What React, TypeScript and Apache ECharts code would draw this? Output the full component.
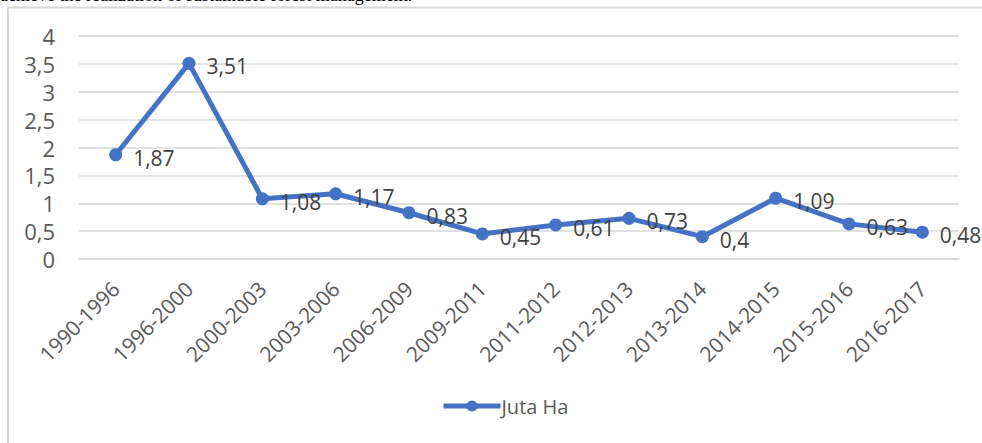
import React, { useEffect, useRef } from "react";
import * as echarts from "echarts";

const categories = [
  "1990-1996", "1996-2000", "2000-2003", "2003-2006", "2006-2009", "2009-2011",
  "2011-2012", "2012-2013", "2013-2014", "2014-2015", "2015-2016", "2016-2017",
];
const values = [1.87, 3.51, 1.08, 1.17, 0.83, 0.45, 0.61, 0.73, 0.4, 1.09, 0.63, 0.48];
const seriesName = "Juta Ha";
const topText = "achieve the realization of sustainable forest management.";

const FONT = "'Open Sans', sans-serif";
const comma = (v: number | string) => String(v).replace(".", ",");

export default function App() {
  const ref = useRef<HTMLDivElement>(null);
  useEffect(() => {
    if (!ref.current) return;
    const chart = echarts.init(ref.current, undefined, { renderer: "svg" });
    chart.setOption({
      animation: false,
      backgroundColor: "#ffffff",
      graphic: [
        {
          type: "rect",
          shape: { x: 8, y: 7.5, width: 1000, height: 500 },
          style: { fill: "none", stroke: "#d9d9d9", lineWidth: 2 },
          z: -1,
        },
        {
          type: "text",
          x: 0,
          y: 4,
          style: {
            text: topText,
            font: "18px 'Liberation Serif', serif",
            fill: "#000000",
            verticalAlign: "bottom",
          },
        },
      ],
      grid: { left: 79, right: 23, top: 36, bottom: 184, containLabel: false },
      legend: {
        bottom: 22,
        left: 436,
        itemWidth: 57,
        itemHeight: 14,
        itemGap: 2,
        data: [seriesName],
        lineStyle: { width: 5 },
        textStyle: { color: "#595959", fontSize: 20, fontFamily: FONT, padding: [0, 0, 0, -4] },
      },
      xAxis: {
        type: "category",
        data: categories,
        boundaryGap: true,
        axisLine: { show: true, lineStyle: { color: "#d9d9d9", width: 1.5 } },
        axisTick: { show: false },
        axisLabel: {
          rotate: 45,
          interval: 0,
          margin: 26,
          color: "#595959",
          fontSize: 21,
          fontFamily: FONT,
        },
      },
      yAxis: {
        type: "value",
        min: 0,
        max: 4,
        interval: 0.5,
        axisLine: { show: false },
        axisTick: { show: false },
        splitLine: { lineStyle: { color: "#d9d9d9", width: 1.5 } },
        axisLabel: {
          margin: 24,
          color: "#595959",
          fontSize: 22,
          fontFamily: FONT,
          formatter: (v: number) => comma(v),
        },
      },
      series: [
        {
          name: seriesName,
          type: "line",
          data: values,
          symbol: "circle",
          symbolSize: 13,
          lineStyle: { color: "#4472c4", width: 5 },
          itemStyle: { color: "#4472c4" },
          label: {
            show: true,
            position: "right",
            distance: 11,
            offset: [0, 3],
            color: "#404040",
            fontSize: 21,
            fontFamily: FONT,
            formatter: (p: any) => comma(p.value),
          },
        },
      ],
    });
    return () => chart.dispose();
  }, []);
  return (
    <div
      ref={ref}
      style={{ position: "fixed", left: 0, top: 0, width: 982, height: 443, background: "#fff" }}
    />
  );
}
